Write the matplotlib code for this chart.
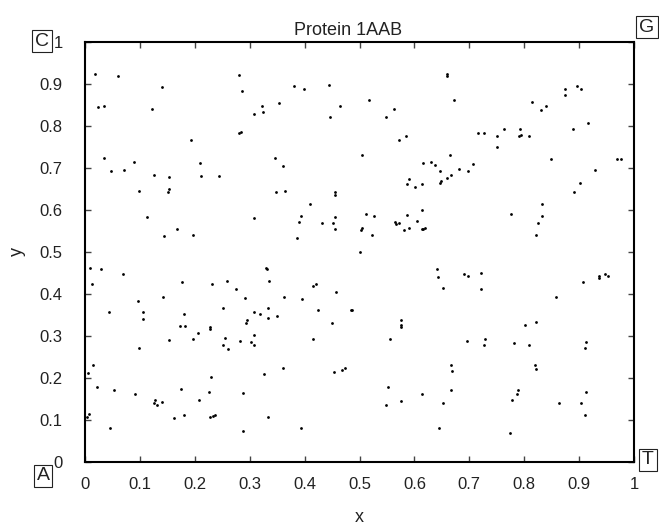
import matplotlib
matplotlib.use("Agg")
import matplotlib.pyplot as plt

plt.rcParams['font.family'] = ['Liberation Sans', 'DejaVu Sans']

# point coordinates
xs = [
    0.018, 0.061, 0.141, 0.024, 0.035, 0.122, 0.281, 0.286, 0.322, 0.324, 0.307, 0.281,
    0.285, 0.193, 0.035, 0.089, 0.210, 0.048, 0.071, 0.126, 0.153, 0.212, 0.244,
    0.098, 0.151, 0.153, 0.113, 0.307, 0.167, 0.144, 0.197, 0.009, 0.030, 0.070, 0.330,
    0.331, 0.012, 0.177, 0.232, 0.259, 0.335, 0.275, 0.097, 0.142, 0.292, 0.044, 0.105,
    0.106, 0.181, 0.252, 0.308, 0.319, 0.333, 0.333, 0.295, 0.293,
    0.173, 0.182, 0.228, 0.228, 0.205, 0.153, 0.197, 0.098, 0.255, 0.252, 0.261, 0.282,
    0.302, 0.307, 0.307, 0.015, 0.006, 0.326, 0.229, 0.022, 0.053, 0.091, 0.174, 0.225,
    0.288, 0.208, 0.127, 0.126, 0.131, 0.141, 0.007, 0.003, 0.163, 0.181, 0.227, 0.234,
    0.237, 0.334, 0.046, 0.288,
    0.660, 0.660, 0.381, 0.398, 0.444, 0.353, 0.465, 0.518, 0.672, 0.446, 0.549, 0.563,
    0.572, 0.584, 0.504, 0.346, 0.361, 0.665, 0.616, 0.630, 0.637, 0.646, 0.590, 0.586,
    0.614, 0.647, 0.648, 0.659, 0.666,
    0.602, 0.347, 0.364, 0.456, 0.455, 0.410, 0.394, 0.389, 0.455, 0.432, 0.452, 0.455,
    0.387, 0.511, 0.526, 0.504, 0.502, 0.522, 0.564, 0.567, 0.572, 0.587, 0.604, 0.614,
    0.581, 0.590, 0.613, 0.616, 0.619, 0.500, 0.641, 0.643, 0.653, 0.420, 0.415, 0.458,
    0.363, 0.395, 0.349, 0.424, 0.484, 0.487, 0.450, 0.576, 0.576, 0.576,
    0.416, 0.556, 0.361, 0.453, 0.469, 0.474, 0.552, 0.549, 0.576, 0.614, 0.653, 0.666,
    0.668, 0.666, 0.393, 0.644,
    0.897, 0.875, 0.875, 0.904, 0.815, 0.840, 0.830, 0.916, 0.888, 0.716, 0.726, 0.763,
    0.750, 0.750, 0.790, 0.795, 0.793, 0.808, 0.849, 0.969, 0.976, 0.707, 0.681, 0.697,
    0.929, 0.901,
    0.891, 0.832, 0.776, 0.833, 0.826, 0.822, 0.690, 0.698, 0.722, 0.722, 0.858, 0.907,
    0.937, 0.937, 0.948, 0.952, 0.801, 0.822,
    0.695, 0.728, 0.727, 0.782, 0.809, 0.913, 0.911, 0.820, 0.821, 0.788, 0.787, 0.912,
    0.778, 0.864, 0.904, 0.910, 0.774,
]
ys = [
    0.924, 0.920, 0.892, 0.845, 0.848, 0.840, 0.921, 0.883, 0.847, 0.834, 0.829, 0.784,
    0.785, 0.767, 0.724, 0.714, 0.712, 0.692, 0.696, 0.683, 0.679, 0.681, 0.681,
    0.646, 0.644, 0.650, 0.583, 0.580, 0.554, 0.537, 0.540, 0.462, 0.460, 0.447, 0.461,
    0.459, 0.423, 0.428, 0.425, 0.431, 0.432, 0.412, 0.384, 0.394, 0.390, 0.357, 0.356,
    0.340, 0.353, 0.366, 0.356, 0.353, 0.367, 0.342, 0.338, 0.330,
    0.323, 0.324, 0.321, 0.317, 0.308, 0.290, 0.293, 0.271, 0.295, 0.279, 0.270, 0.287,
    0.286, 0.302, 0.278, 0.231, 0.213, 0.209, 0.202, 0.179, 0.171, 0.162, 0.174, 0.167,
    0.164, 0.147, 0.148, 0.140, 0.136, 0.144, 0.115, 0.106, 0.104, 0.113, 0.108, 0.110,
    0.113, 0.108, 0.082, 0.074,
    0.923, 0.918, 0.896, 0.889, 0.897, 0.854, 0.847, 0.861, 0.861, 0.821, 0.822, 0.840,
    0.767, 0.776, 0.730, 0.724, 0.705, 0.730, 0.711, 0.715, 0.706, 0.694, 0.675, 0.661,
    0.661, 0.665, 0.669, 0.676, 0.683,
    0.654, 0.644, 0.646, 0.642, 0.636, 0.615, 0.585, 0.572, 0.583, 0.569, 0.570, 0.555,
    0.533, 0.590, 0.585, 0.558, 0.553, 0.540, 0.571, 0.567, 0.570, 0.587, 0.573, 0.601,
    0.552, 0.556, 0.554, 0.555, 0.556, 0.501, 0.460, 0.441, 0.414, 0.425, 0.419, 0.404,
    0.393, 0.388, 0.347, 0.361, 0.361, 0.361, 0.332, 0.339, 0.326, 0.322,
    0.293, 0.292, 0.225, 0.214, 0.219, 0.225, 0.179, 0.136, 0.146, 0.161, 0.140, 0.230,
    0.216, 0.171, 0.082, 0.082,
    0.896, 0.888, 0.875, 0.888, 0.857, 0.848, 0.838, 0.807, 0.794, 0.784, 0.784, 0.792,
    0.776, 0.750, 0.776, 0.778, 0.794, 0.777, 0.722, 0.722, 0.722, 0.710, 0.697, 0.694,
    0.696, 0.664,
    0.642, 0.614, 0.590, 0.586, 0.569, 0.540, 0.448, 0.444, 0.449, 0.411, 0.393, 0.429,
    0.444, 0.439, 0.448, 0.444, 0.327, 0.333,
    0.287, 0.292, 0.278, 0.284, 0.279, 0.285, 0.271, 0.231, 0.221, 0.171, 0.161, 0.167,
    0.147, 0.140, 0.140, 0.111, 0.068,
]

ticks = [0, 0.1, 0.2, 0.3, 0.4, 0.5, 0.6, 0.7, 0.8, 0.9, 1]
tick_labels = ['0', '0.1', '0.2', '0.3', '0.4', '0.5', '0.6', '0.7', '0.8', '0.9', '1']
corner_labels = {'C': (42, 41), 'G': (647, 27), 'A': (43, 476), 'T': (648, 460)}

W, H = 659, 528
fig = plt.figure(figsize=(W / 100, H / 100), dpi=100)
ax = fig.add_axes([85 / W, 66 / H, 549 / W, 420 / H])

ax.scatter(xs, ys, s=4, color='black', linewidths=0)

ax.set_xlim(0, 1)
ax.set_ylim(0, 1)
ax.set_xticks(ticks)
ax.set_yticks(ticks)
ax.set_xticklabels(tick_labels)
ax.set_yticklabels(tick_labels)
ax.tick_params(direction='in', length=4, width=1, color='#444444',
               top=True, right=True, labelsize=12, labelcolor='#222222')
ax.tick_params(axis='y', pad=16)
ax.tick_params(axis='x', pad=11)
for sp in ax.spines.values():
    sp.set_linewidth(1.5)

ax.set_xlabel('x', fontsize=13, labelpad=12, color='#222222')
ax.set_ylabel('y', fontsize=13, labelpad=10, color='#222222')
ax.set_title('Protein 1AAB', fontsize=13, pad=5, color='#222222', x=0.48)

for letter, (px, py) in corner_labels.items():
    fig.text(px / W, 1 - py / H, letter, fontsize=14, ha='center', va='center',
             color='#222222',
             bbox=dict(boxstyle='square,pad=0.15', fc='white', ec='#222222', lw=0.8))

fig.savefig('out.png', dpi=100)
